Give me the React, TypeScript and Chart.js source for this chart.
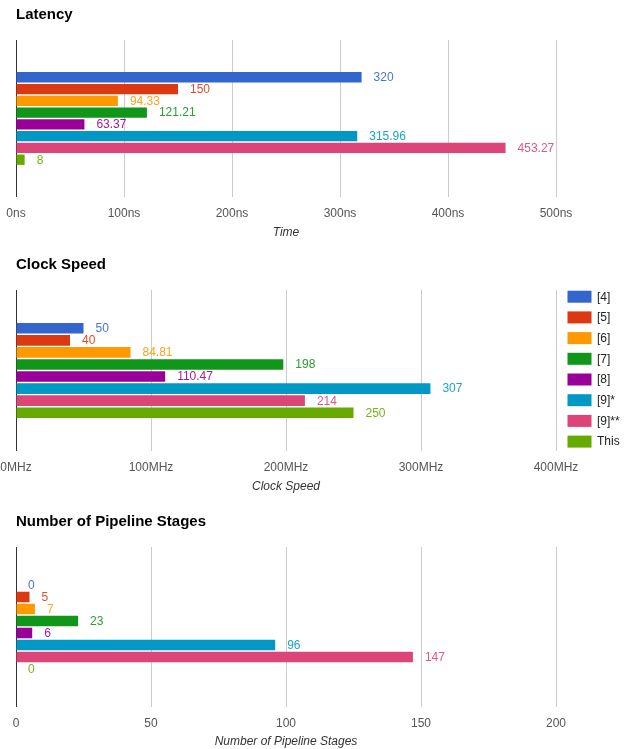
import React, { useEffect, useRef } from 'react';
import { Chart, registerables } from 'chart.js';

Chart.register(...registerables);

const FONT = '"Liberation Sans", Arial, Helvetica, sans-serif';
Chart.defaults.font.family = FONT;

const seriesLabels = ['[4]', '[5]', '[6]', '[7]', '[8]', '[9]*', '[9]**', 'This'];
const seriesColors = ['#3366cc', '#dc3912', '#ff9900', '#109618', '#990099', '#0099c6', '#dd4477', '#66aa00'];

const latencyValues = [320, 150, 94.33, 121.21, 63.37, 315.96, 453.27, 8];
const clockValues = [50, 40, 84.81, 198, 110.47, 307, 214, 250];
const stageValues = [0, 5, 7, 23, 6, 96, 147, 0];

const latencyTickUnit = 'ns';
const clockTickUnit = 'MHz';
const stageTickUnit = '';

const CANVAS_W = 633;
const PLOT_LEFT = 16;
const PLOT_RIGHT = 556;

function lighten(hex: string, t: number) {
  const n = parseInt(hex.slice(1), 16);
  const r = (n >> 16) & 255, g = (n >> 8) & 255, b = n & 255;
  const m = (c: number) => Math.round(c + (255 - c) * t);
  return `rgb(${m(r)},${m(g)},${m(b)})`;
}

const valueLabels = {
  id: 'valueLabels',
  afterDatasetsDraw(chart: any) {
    const ctx = chart.ctx;
    ctx.save();
    ctx.font = `12px ${FONT}`;
    ctx.textBaseline = 'middle';
    ctx.textAlign = 'left';
    chart.data.datasets.forEach((ds: any, i: number) => {
      const meta = chart.getDatasetMeta(i);
      meta.data.forEach((bar: any, j: number) => {
        ctx.fillStyle = lighten(ds.backgroundColor, 0.1);
        ctx.fillText(String(ds.data[j]), bar.x + 12, bar.y + 0.5);
      });
    });
    ctx.restore();
  },
};

const sideLegend = {
  id: 'sideLegend',
  afterDraw(chart: any) {
    const ctx = chart.ctx;
    ctx.save();
    ctx.font = `12px ${FONT}`;
    ctx.textBaseline = 'middle';
    ctx.textAlign = 'left';
    chart.data.datasets.forEach((ds: any, i: number) => {
      const cy = 46.7 + i * 20.7;
      ctx.fillStyle = ds.backgroundColor;
      ctx.fillRect(567.5, cy - 6, 24, 12);
      ctx.fillStyle = '#222';
      ctx.fillText(ds.label, 597, cy + 0.5);
    });
    ctx.restore();
  },
};

type Params = {
  title: string;
  axisTitle: string;
  values: number[];
  max: number;
  step: number;
  unit: string;
  h: number;
  titleY: number;
  plotTop: number;
  plotBottom: number;
  axisTitleY: number;
  legend?: boolean;
};

function makeConfig(p: Params): any {
  return {
    type: 'bar',
    data: {
      labels: [''],
      datasets: seriesLabels.map((l, i) => ({
        label: l,
        data: [p.values[i]],
        backgroundColor: seriesColors[i],
        borderWidth: 0,
        categoryPercentage: 0.6,
        barPercentage: 0.88,
      })),
    },
    options: {
      indexAxis: 'y',
      responsive: false,
      animation: false,
      layout: { padding: { left: PLOT_LEFT, right: CANVAS_W - PLOT_RIGHT, top: 0, bottom: 0 } },
      plugins: {
        legend: { display: false },
        tooltip: { enabled: false },
        title: {
          display: true,
          text: p.title,
          align: 'start',
          color: '#000',
          font: { size: 15, weight: 'bold', family: FONT },
          padding: { top: p.titleY - 9, bottom: p.plotTop - p.titleY - 9 },
        },
      },
      scales: {
        x: {
          type: 'linear',
          min: 0,
          max: p.max,
          ticks: {
            stepSize: p.step,
            callback: (v: any) => `${v}${p.unit}`,
            color: '#555',
            font: { size: 12 },
            padding: 9,
            maxRotation: 0,
            autoSkip: false,
          },
          grid: {
            color: (c: any) => (c.tick && c.tick.value === 0 ? '#333' : '#ccc'),
            drawTicks: false,
          },
          border: { display: false },
          title: {
            display: true,
            text: p.axisTitle,
            color: '#333',
            font: { size: 12, style: 'italic' },
            padding: { top: 0, bottom: Math.max(0, p.h - p.axisTitleY - 7.2) },
          },
          afterFit: (s: any) => {
            s.height = p.h - p.plotBottom;
            s.paddingLeft = 0;
            s.paddingRight = 0;
          },
        },
        y: {
          display: false,
          afterFit: (s: any) => {
            s.width = 0;
          },
        },
      },
    },
    plugins: p.legend ? [valueLabels, sideLegend] : [valueLabels],
  };
}

function BarPanel({ params, top }: { params: Params; top: number }) {
  const ref = useRef<HTMLCanvasElement | null>(null);
  useEffect(() => {
    if (!ref.current) return;
    const chart = new Chart(ref.current, makeConfig(params));
    return () => chart.destroy();
  }, []);
  return (
    <div style={{ position: 'absolute', left: 0, top, width: CANVAS_W, height: params.h }}>
      <canvas ref={ref} width={CANVAS_W} height={params.h} style={{ display: 'block', width: CANVAS_W, height: params.h }} />
    </div>
  );
}

const panels: { top: number; params: Params }[] = [
  {
    top: 0,
    params: {
      title: 'Latency', axisTitle: 'Time', values: latencyValues, max: 500, step: 100, unit: latencyTickUnit,
      h: 250, titleY: 15, plotTop: 40, plotBottom: 197, axisTitleY: 233,
    },
  },
  {
    top: 250,
    params: {
      title: 'Clock Speed', axisTitle: 'Clock Speed', values: clockValues, max: 400, step: 100, unit: clockTickUnit,
      h: 250, titleY: 15, plotTop: 40, plotBottom: 201, axisTitleY: 237, legend: true,
    },
  },
  {
    top: 500,
    params: {
      title: 'Number of Pipeline Stages', axisTitle: 'Number of Pipeline Stages', values: stageValues, max: 200, step: 50, unit: stageTickUnit,
      h: 249, titleY: 21.5, plotTop: 47, plotBottom: 207, axisTitleY: 242,
    },
  },
];

export default function App() {
  return (
    <div style={{ position: 'absolute', left: 0, top: 0, width: CANVAS_W, height: 749, overflow: 'hidden', background: '#fff' }}>
      {panels.map((p, i) => (
        <BarPanel key={i} params={p.params} top={p.top} />
      ))}
    </div>
  );
}
